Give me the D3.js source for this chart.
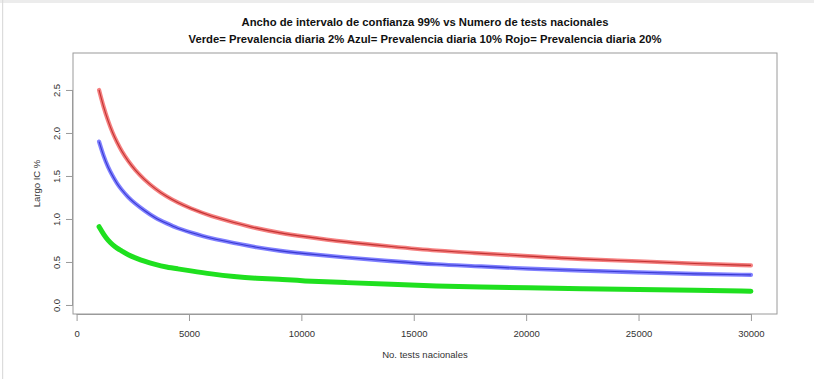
<!DOCTYPE html>
<html><head><meta charset="utf-8">
<script src="https://cdn.jsdelivr.net/npm/d3@7"></script>
<style>body{margin:0;background:#fff}svg{display:block}</style>
</head><body>
<svg id="c" width="820" height="379"></svg>
<script>
const tests = [1000,1200,1400,1600,1800,2000,2300,2600,3000,3500,4000,4500,5000,6000,7000,8000,9000,10000,12000,14000,16000,18000,20000,22500,25000,27500,30000];
const rojo  = [2.50,2.30,2.14,2.00,1.89,1.79,1.67,1.57,1.46,1.35,1.26,1.19,1.13,1.03,0.96,0.89,0.84,0.80,0.73,0.68,0.63,0.60,0.57,0.53,0.51,0.48,0.46];
const azul  = [1.90,1.73,1.60,1.50,1.41,1.34,1.25,1.18,1.10,1.01,0.95,0.89,0.85,0.77,0.72,0.67,0.63,0.60,0.55,0.51,0.47,0.45,0.42,0.40,0.38,0.36,0.35];
const verde = [0.91,0.82,0.75,0.70,0.66,0.63,0.58,0.55,0.51,0.47,0.44,0.42,0.40,0.36,0.33,0.31,0.30,0.28,0.26,0.24,0.22,0.21,0.20,0.19,0.18,0.17,0.16];
const xTicks = [0,5000,10000,15000,20000,25000,30000];
const yTicks = [0.0,0.5,1.0,1.5,2.0,2.5];
const title1 = "Ancho de intervalo de confianza 99% vs Numero de tests nacionales";
const title2 = "Verde= Prevalencia diaria 2% Azul= Prevalencia diaria 10% Rojo= Prevalencia diaria 20%";
const xLabel = "No. tests nacionales";
const yLabel = "Largo IC %";

const svg = d3.select("#c");
const L=73, R=777, T=53, B=314;
const x = d3.scaleLinear().domain([-160,31160]).range([L,R]);
const y = d3.scaleLinear().domain([-0.105,2.93]).range([B,T]);

// frame of the screenshot
svg.append("rect").attr("x",0).attr("y",0).attr("width",814).attr("height",3).attr("fill","#ececec");
svg.append("rect").attr("x",2).attr("y",0).attr("width",1.2).attr("height",379).attr("fill","#dcdcdc");

// box
svg.append("rect").attr("x",L).attr("y",T).attr("width",R-L).attr("height",B-T)
  .attr("fill","none").attr("stroke","#9a9a9a").attr("stroke-width",1);

const font = "'Liberation Sans', Arial, sans-serif";
const xa = svg.append("g").attr("transform",`translate(0,${B})`)
  .call(d3.axisBottom(x).tickValues(xTicks).tickSize(7).tickPadding(9).tickFormat(d3.format("d")));
xa.select(".domain").attr("d", `M${x(0)},0.5H${x(30000)}`).attr("stroke","#9a9a9a");
xa.selectAll(".tick line").attr("stroke","#9a9a9a");
xa.selectAll("text").attr("font-family",font).attr("font-size",9.5).attr("fill","#333");

const ya = svg.append("g").attr("transform",`translate(${L},0)`)
  .call(d3.axisLeft(y).tickValues(yTicks).tickSize(7).tickFormat(d3.format(".1f")));
ya.select(".domain").attr("d", `M-0.5,${y(0)}V${y(2.5)}`).attr("stroke","#9a9a9a");
ya.selectAll(".tick line").attr("stroke","#9a9a9a");
ya.selectAll("text").attr("font-family",font).attr("font-size",9.5).attr("fill","#333")
  .attr("x",0).attr("dy",0).attr("text-anchor","middle")
  .attr("transform","translate(-16,0) rotate(-90)").attr("dominant-baseline","middle");

const line = d3.line().x((d,i)=>x(tests[i])).y(d=>y(d)).curve(d3.curveBasis);
function series(vals, halo, core, w, op){
  svg.append("path").attr("d",line(vals)).attr("fill","none").attr("stroke",halo)
    .attr("stroke-width",w).attr("stroke-linecap","round").attr("stroke-opacity",op);
  if(core) svg.append("path").attr("d",line(vals)).attr("fill","none").attr("stroke",core)
    .attr("stroke-width",1.1).attr("stroke-opacity",0.75);
}
series(verde,"#1fe01f",null,5,1);
series(azul,"#6060ff","#2222c0",4.2,0.8);
series(rojo,"#f26060","#b01818",4.2,0.8);

const cx = (L+R)/2;
svg.append("text").attr("x",cx).attr("y",26).attr("text-anchor","middle")
  .attr("font-family",font).attr("font-weight","bold").attr("font-size",11).attr("fill","#111")
  .attr("textLength",367).attr("lengthAdjust","spacingAndGlyphs").text(title1);
svg.append("text").attr("x",cx).attr("y",43).attr("text-anchor","middle")
  .attr("font-family",font).attr("font-weight","bold").attr("font-size",11).attr("fill","#111")
  .attr("textLength",473).attr("lengthAdjust","spacingAndGlyphs").text(title2);
svg.append("text").attr("x",cx).attr("y",358).attr("text-anchor","middle")
  .attr("font-family",font).attr("font-size",9.5).attr("fill","#333").text(xLabel);
svg.append("text").attr("transform",`translate(40,${(T+B)/2}) rotate(-90)`).attr("text-anchor","middle")
  .attr("font-family",font).attr("font-size",9.5).attr("fill","#333").text(yLabel);
</script>
</body></html>
